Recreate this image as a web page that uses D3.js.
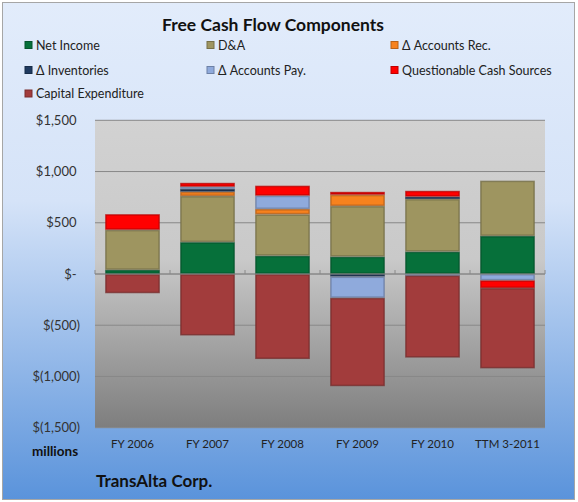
<!DOCTYPE html>
<html><head><meta charset="utf-8">
<script src="https://cdn.jsdelivr.net/npm/d3@7"></script>
<style>
html,body{margin:0;padding:0;background:#fff;}
svg{display:block;font-family:"Lato","Liberation Sans",sans-serif;}
</style></head>
<body><svg id="c" width="578" height="502"></svg>
<script>
const categories = ["FY 2006","FY 2007","FY 2008","FY 2009","FY 2010","TTM 3-2011"];
const netIncome    = [40, 311, 178, 169, 218, 371];
const da           = [391, 450, 404, 494, 514, 540];
const accountsRec  = [0, 42, 52, 110, 0, 0];
const inventories  = [0, 26, 0, -25, 22, 0];
const accountsPay  = [0, 22, 130, -208, -15, -62];
const questionable = [153, 39, 98, 29, 58, -75];
const capex        = [-188, -600, -830, -862, -801, -784];
const seriesNames  = ["Net Income","D&A","\u0394 Accounts Rec.","\u0394 Inventories","\u0394 Accounts Pay.","Questionable Cash Sources","Capital Expenditure"];
const seriesColors = ["#06703A","#9E9560","#F7821E","#1F3A60","#8FAADC","#FF0000","#A23C3C"];
const yTicks       = [-1500,-1000,-500,0,500,1000,1500];
const yTickLabels  = ["$(1,500)","$(1,000)","$(500)","$-","$500","$1,000","$1,500"];

const seriesValues = [netIncome, da, accountsRec, inventories, accountsPay, questionable, capex];
const rows = categories.map((c,i)=>{const r={cat:c}; seriesNames.forEach((s,j)=>r[s]=seriesValues[j][i]); return r;});

const svg = d3.select("#c");
const defs = svg.append("defs");
const bg = defs.append("linearGradient").attr("id","bg").attr("x1",0).attr("y1",0).attr("x2",0).attr("y2",1);
bg.append("stop").attr("offset","0%").attr("stop-color","#E2ECFB");
bg.append("stop").attr("offset","40%").attr("stop-color","#D5E3F8");
bg.append("stop").attr("offset","100%").attr("stop-color","#5A93DB");
const pg = defs.append("linearGradient").attr("id","pg").attr("x1",0).attr("y1",0).attr("x2",0).attr("y2",1);
pg.append("stop").attr("offset","0%").attr("stop-color","#D2D2D2");
pg.append("stop").attr("offset","45%").attr("stop-color","#C9C9C9");
pg.append("stop").attr("offset","100%").attr("stop-color","#7E7E7E");

svg.append("rect").attr("x",0).attr("y",0).attr("width",578).attr("height",502).attr("fill","#fff");
svg.append("rect").attr("x",2.5).attr("y",2.5).attr("width",572).attr("height",497)
  .attr("fill","url(#bg)").attr("stroke","#A6A6A6").attr("stroke-width",1);

const plot = {l:95, r:545, t:120.3, b:427.7};
const x = d3.scaleBand().domain(categories).range([plot.l, plot.r]).paddingInner(0.27).paddingOuter(0.135);
const xTick = d3.scaleBand().domain(categories).range([plot.l, plot.r]);
const y = d3.scaleLinear().domain([-1500,1500]).range([plot.b, plot.t]);

svg.append("rect").attr("x",plot.l).attr("y",plot.t).attr("width",plot.r-plot.l).attr("height",plot.b-plot.t).attr("fill","url(#pg)");

// gridlines
svg.append("g").selectAll("line").data(yTicks).join("line")
  .attr("x1",plot.l).attr("x2",plot.r).attr("y1",d=>y(d)).attr("y2",d=>y(d))
  .attr("stroke","#888").attr("stroke-width",1);

// y labels
svg.append("g").selectAll("text").data(yTicks).join("text")
  .attr("x",d=>d<0?80:76.5).attr("y",d=>y(d)+4.5)
  .attr("text-anchor","end").attr("font-size",13).attr("fill","#333")
  .text((d,i)=>yTickLabels[i]);

// bars
const stack = d3.stack().keys(seriesNames).offset(d3.stackOffsetDiverging);
const layers = stack(rows);
const g = svg.append("g");
layers.forEach((layer,j)=>{
  const col = seriesColors[j];
  const dk = d3.color(col).darker(0.9);
  g.append("g").selectAll("rect").data(layer.filter(d=>d[1]-d[0]!==0)).join("rect")
    .attr("x",d=>x(d.data.cat)+0.75)
    .attr("width",x.bandwidth()-1.5)
    .attr("y",d=>y(Math.max(d[0],d[1]))+0.75)
    .attr("height",d=>Math.max(0.5,Math.abs(y(d[0])-y(d[1]))-1.5))
    .attr("fill",col).attr("stroke",dk).attr("stroke-width",1.5).attr("stroke-opacity",0.75);
});

// zero axis + ticks
svg.append("line").attr("x1",plot.l).attr("x2",plot.r).attr("y1",y(0)).attr("y2",y(0)).attr("stroke","#888");
svg.append("g").selectAll("line").data(categories.concat(["end"])).join("line")
  .attr("x1",(d,i)=>i<categories.length?xTick(d):plot.r)
  .attr("x2",(d,i)=>i<categories.length?xTick(d):plot.r)
  .attr("y1",y(0)-4).attr("y2",y(0)).attr("stroke","#888");

// x labels
svg.append("g").selectAll("text").data(categories).join("text")
  .attr("x",d=>x(d)+x.bandwidth()/2).attr("y",447.5)
  .attr("text-anchor","middle").attr("font-size",11.5).attr("fill","#222").text(d=>d);

svg.append("text").attr("x",55).attr("y",456).attr("text-anchor","middle")
  .attr("font-size",13.5).attr("font-weight","bold").attr("fill","#111").text("millions");
svg.append("text").attr("x",96).attr("y",487)
  .attr("font-size",17).attr("font-weight","bold").attr("fill","#111").text("TransAlta Corp.");

// title
svg.append("text").attr("x",273).attr("y",31).attr("text-anchor","middle")
  .attr("font-size",17.5).attr("font-weight","bold").attr("fill","#111").text("Free Cash Flow Components");

// legend
const legPos = [[25,45],[207,45],[391,45],[25,70],[207,70],[391,70],[25,93.5]];
const leg = svg.append("g").selectAll("g").data(seriesNames).join("g")
  .attr("transform",(d,i)=>`translate(${legPos[i][0]},${legPos[i][1]})`);
leg.append("rect").attr("x",0).attr("y",-3.5).attr("width",7).attr("height",7)
  .attr("fill",(d,i)=>seriesColors[i]).attr("stroke",(d,i)=>d3.color(seriesColors[i]).darker(0.8)).attr("stroke-width",1);
leg.append("text").attr("x",11).attr("y",4.5).attr("font-size",12.5).attr("fill","#222").text(d=>d);
</script></body></html>
